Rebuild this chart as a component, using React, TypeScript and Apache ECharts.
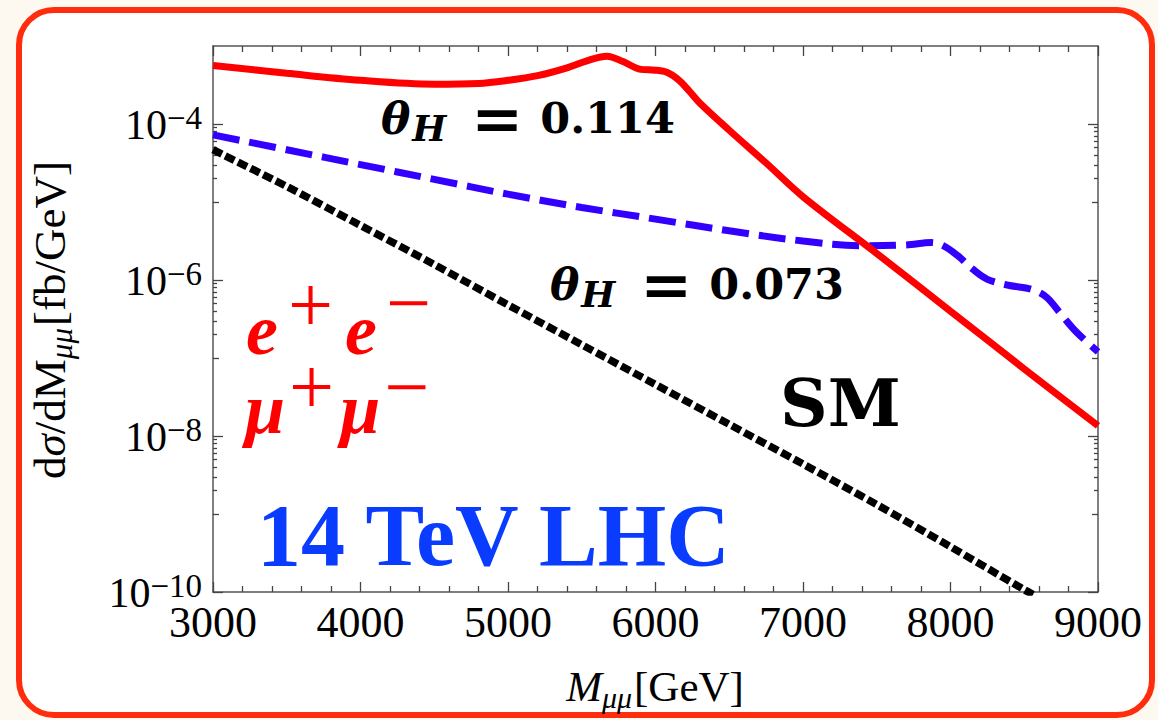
import React, { useEffect, useRef } from "react";
import * as echarts from "echarts";

// ---------- data ----------
const redMass = [3000, 3500, 4000, 4500, 4800, 5000, 5200, 5400, 5550, 5670, 5780, 5900, 6000, 6080, 6160, 6230, 6300, 6500, 6750, 7000, 7500, 8000, 8500, 9000];
const redXsec = [5.62e-4, 4.47e-4, 3.63e-4, 3.24e-4, 3.31e-4, 3.63e-4, 4.17e-4, 5.25e-4, 6.61e-4, 7.41e-4, 6.31e-4, 5.01e-4, 4.9e-4, 4.57e-4, 3.63e-4, 2.63e-4, 1.86e-4, 8.32e-5, 3.16e-5, 1.17e-5, 2.19e-6, 3.98e-7, 7.24e-8, 1.35e-8];

const blueMass = [3000, 3500, 4000, 4500, 5000, 5500, 6000, 6500, 7000, 7400, 7700, 7870, 7950, 8050, 8150, 8250, 8400, 8550, 8650, 8750, 8850, 9000];
const blueXsec = [7.24e-5, 4.68e-5, 3.02e-5, 1.95e-5, 1.26e-5, 8.51e-6, 6.03e-6, 4.27e-6, 3.16e-6, 2.75e-6, 2.82e-6, 3.02e-6, 2.75e-6, 2.04e-6, 1.38e-6, 1.02e-6, 8.51e-7, 7.59e-7, 6.03e-7, 3.63e-7, 2.19e-7, 1.2e-7];

const smMass = [3000, 3500, 4000, 4500, 5000, 5500, 6000, 6500, 7000, 7500, 8000, 8500, 8560];
const smXsec = [4.68e-5, 1.58e-5, 5.01e-6, 1.58e-6, 4.79e-7, 1.48e-7, 4.57e-8, 1.41e-8, 4.37e-9, 1.32e-9, 3.8e-10, 1.07e-10, 9.3e-11];

const xTicks = [3000, 4000, 5000, 6000, 7000, 8000, 9000];
const yLabelExponents = [-10, -8, -6, -4];
const yMediumExponents = [-9, -7, -5];
const yMinorDecades = [-9, -7, -5];
const yMinorMultipliers = [2, 3, 4, 5, 6, 7, 8, 9];

const SERIF = "Liberation Serif";
const BOLD = "DejaVu Serif";
const frameColor = "#555";
const tickColor = "#444";

export default function App() {
  const ref = useRef<HTMLDivElement>(null);

  useEffect(() => {
    if (!ref.current) return;
    const chart = echarts.init(ref.current, null, { renderer: "svg" });

    const minorExp: number[] = [];
    yMinorDecades.forEach((e) => yMinorMultipliers.forEach((k) => minorExp.push(e + Math.log10(k))));

    const xBase = (pos: "bottom" | "top", labels: boolean) => ({
      type: "value",
      position: pos,
      min: xTicks[0],
      max: xTicks[xTicks.length - 1],
      interval: 1000,
      axisLine: { show: true, onZero: false, lineStyle: { color: frameColor, width: 1.5 } },
      axisTick: { show: true, inside: true, length: 10, lineStyle: { color: tickColor, width: 1.3 } },
      minorTick: { show: true, splitNumber: 5, length: 6, lineStyle: { color: tickColor, width: 1.3 } },
      splitLine: { show: false },
      minorSplitLine: { show: false },
      axisLabel: {
        show: labels,
        margin: 14,
        fontFamily: SERIF,
        fontSize: 44,
        lineHeight: 32,
        color: "#000",
        formatter: (v: number) => String(v),
      },
    });

    const logBase = (pos: "left" | "right") => ({
      type: "log",
      logBase: 10,
      position: pos,
      min: 1e-10,
      max: 1e-3,
      axisLine: { show: true, onZero: false, lineStyle: { color: frameColor, width: 1.5 } },
      axisTick: { show: false },
      axisLabel: { show: false },
      splitLine: { show: false },
      minorTick: { show: false },
    });

    const expAxis = (pos: "left" | "right", values: number[], len: number, labels: boolean) => ({
      type: "value",
      position: pos,
      min: -10,
      max: -3,
      axisLine: { show: false },
      splitLine: { show: false },
      axisTick: { show: true, inside: true, length: len, customValues: values, lineStyle: { color: tickColor, width: 1.3 } },
      axisLabel: labels
        ? {
            show: true,
            customValues: yLabelExponents,
            margin: 11,
            formatter: (v: number) => `{b|10}{s|\u2212${Math.abs(Math.round(v))}}`,
            rich: {
              b: { fontFamily: SERIF, fontSize: 42, lineHeight: 24, color: "#000", verticalAlign: "middle", padding: [2, 0, 0, 0] },
              s: { fontFamily: SERIF, fontSize: 33, lineHeight: 12, color: "#000", verticalAlign: "middle", padding: [0, 0, 12, 0] },
            },
          }
        : { show: false },
    });

    const thetaRich = {
      t: { fontFamily: BOLD, fontWeight: "bold", fontStyle: "italic", fontSize: 44, fill: "#000", verticalAlign: "middle" },
      h: { fontFamily: BOLD, fontWeight: "bold", fontStyle: "italic", fontSize: 36, fill: "#000", verticalAlign: "middle", padding: [20, 0, 0, 2] },
      e: { fontFamily: BOLD, fontWeight: "bold", fontSize: 62, fill: "#000", verticalAlign: "middle", padding: [0, 17, 0, 25] },
      n: { fontFamily: BOLD, fontWeight: "bold", fontSize: 43, fill: "#000", verticalAlign: "middle" },
    };

    const option: any = {
      animation: false,
      backgroundColor: "transparent",
      grid: { left: 213, right: 60, top: 46, bottom: 128, containLabel: false },
      xAxis: [xBase("bottom", true), xBase("top", false)],
      yAxis: [
        logBase("left"),
        logBase("right"),
        expAxis("left", yLabelExponents, 10, true),
        expAxis("right", yLabelExponents, 10, false),
        expAxis("left", yMediumExponents, 6, false),
        expAxis("right", yMediumExponents, 6, false),
        expAxis("left", minorExp, 4, false),
        expAxis("right", minorExp, 4, false),
      ],
      series: [
        {
          name: "SM",
          type: "line",
          xAxisIndex: 0,
          yAxisIndex: 0,
          data: smMass.map((m, i) => [m, smXsec[i]]),
          symbol: "none",
          smooth: 0.3,
          clip: true,
          lineStyle: { color: "#000", width: 7.5, type: [10, 4], cap: "butt" },
          z: 2,
        },
        {
          name: "θH = 0.073",
          type: "line",
          xAxisIndex: 0,
          yAxisIndex: 0,
          data: blueMass.map((m, i) => [m, blueXsec[i]]),
          symbol: "none",
          smooth: 0.35,
          clip: true,
          lineStyle: { color: "#3300ff", width: 7, type: [27, 10], cap: "butt" },
          z: 3,
        },
        {
          name: "θH = 0.114",
          type: "line",
          xAxisIndex: 0,
          yAxisIndex: 0,
          data: redMass.map((m, i) => [m, redXsec[i]]),
          symbol: "none",
          smooth: 0.35,
          clip: true,
          lineStyle: { color: "#ff0000", width: 7 },
          z: 4,
        },
      ],
      graphic: [
        {
          type: "text",
          x: 655,
          y: 686,
          style: {
            text: "{i|M}{sub|μμ}{n|[GeV]}",
            align: "center",
            verticalAlign: "middle",
            rich: {
              i: { fontFamily: SERIF, fontStyle: "italic", fontSize: 43, fill: "#000", verticalAlign: "middle" },
              sub: { fontFamily: SERIF, fontStyle: "italic", fontSize: 30, fill: "#000", verticalAlign: "middle", padding: [22, 2, 0, 0] },
              n: { fontFamily: SERIF, fontSize: 43, fill: "#000", verticalAlign: "middle" },
            },
          },
        },
        {
          type: "text",
          x: 50,
          y: 320,
          rotation: Math.PI / 2,
          style: {
            text: "{n|d}{i|σ}{n|/dM}{sub|μμ}{n|[fb/GeV]}",
            align: "center",
            verticalAlign: "middle",
            rich: {
              n: { fontFamily: SERIF, fontSize: 45, fill: "#000", verticalAlign: "middle" },
              i: { fontFamily: SERIF, fontStyle: "italic", fontSize: 45, fill: "#000", verticalAlign: "middle" },
              sub: { fontFamily: SERIF, fontStyle: "italic", fontSize: 31, fill: "#000", verticalAlign: "middle", padding: [22, 2, 0, 0] },
            },
          },
        },
        {
          type: "text",
          x: 381,
          y: 118,
          z: 10,
          style: { text: "{t|θ}{h|H}{e|=}{n|0.114}", align: "left", verticalAlign: "middle", rich: thetaRich },
        },
        {
          type: "text",
          x: 550,
          y: 284,
          z: 10,
          style: { text: "{t|θ}{h|H}{e|=}{n|0.073}", align: "left", verticalAlign: "middle", rich: thetaRich },
        },
        {
          type: "text",
          x: 780,
          y: 403,
          z: 10,
          style: { text: "SM", fontFamily: BOLD, fontWeight: "bold", fontSize: 66, fill: "#000", align: "left", verticalAlign: "middle" },
        },
        {
          type: "text",
          x: 257,
          y: 535,
          z: 10,
          style: { text: "14 TeV LHC", fontFamily: SERIF, fontWeight: "bold", fontSize: 88, fill: "#0a3cff", align: "left", verticalAlign: "middle" },
        },
        {
          type: "text",
          x: 246,
          y: 330,
          z: 10,
          style: {
            text: "{e|e}{p|+}{e2|e}{m|\u2212}",
            align: "left",
            verticalAlign: "middle",
            rich: {
              e: { fontFamily: SERIF, fontWeight: "bold", fontStyle: "italic", fontSize: 72, fill: "#ff0000", verticalAlign: "middle" },
              p: { fontFamily: SERIF, fontSize: 80, fill: "#ff0000", verticalAlign: "middle", padding: [0, 0, 51, 10] },
              e2: { fontFamily: SERIF, fontWeight: "bold", fontStyle: "italic", fontSize: 72, fill: "#ff0000", verticalAlign: "middle", padding: [0, 0, 0, 12] },
              m: { fontFamily: SERIF, fontSize: 80, fill: "#ff0000", verticalAlign: "middle", padding: [0, 0, 54, 9] },
            },
          },
        },
        {
          type: "text",
          x: 245,
          y: 409,
          z: 10,
          style: {
            text: "{e|μ}{p|+}{e2|μ}{m|\u2212}",
            align: "left",
            verticalAlign: "middle",
            rich: {
              e: { fontFamily: SERIF, fontWeight: "bold", fontStyle: "italic", fontSize: 72, fill: "#ff0000", verticalAlign: "middle" },
              p: { fontFamily: SERIF, fontSize: 80, fill: "#ff0000", verticalAlign: "middle", padding: [0, 0, 44, 4] },
              e2: { fontFamily: SERIF, fontWeight: "bold", fontStyle: "italic", fontSize: 72, fill: "#ff0000", verticalAlign: "middle", padding: [0, 0, 0, 6] },
              m: { fontFamily: SERIF, fontSize: 80, fill: "#ff0000", verticalAlign: "middle", padding: [0, 0, 44, 4] },
            },
          },
        },
      ],
    };

    chart.setOption(option);
    return () => chart.dispose();
  }, []);

  return (
    <div style={{ position: "fixed", left: 0, top: 0, width: 1158, height: 720, background: "#fdf8f0", overflow: "hidden" }}>
      <div
        style={{
          position: "absolute",
          left: 16,
          top: 7,
          width: 1139,
          height: 711,
          boxSizing: "border-box",
          border: "6px solid #ff2d0d",
          borderRadius: 38,
          background: "#ffffff",
        }}
      />
      <div ref={ref} style={{ position: "absolute", left: 0, top: 0, width: 1158, height: 720 }} />
    </div>
  );
}
